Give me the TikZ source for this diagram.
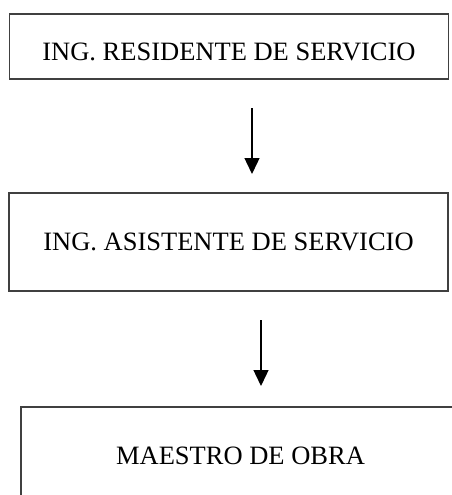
\documentclass[tikz,border=0pt]{standalone}
\usepackage{fontspec}
\setmainfont{Liberation Serif}
\usetikzlibrary{arrows.meta}
\usetikzlibrary{positioning}

\begin{document}
\begin{tikzpicture}[x=1pt, y=-1pt, ->, >={Triangle[length=16pt,width=15pt]}, line width=1.4pt]
    \tikzstyle{puesto}=[rectangle, draw=black!75, line width=1.6pt, minimum width=439pt, inner sep=0pt, font=\fontsize{26.5}{30}\selectfont]
    \useasboundingbox (0,0) rectangle (452,495);

    \node[puesto, minimum height=65pt, text height=28pt, text depth=0pt] (residente) at (229,46.5) {ING. RESIDENTE DE SERVICIO};
    \node[puesto, minimum height=98pt] (asistente) at (228.5,242) {ING. ASISTENTE DE SERVICIO};
    \node[puesto, minimum height=98pt] (maestro) at (240.5,456) {MAESTRO DE OBRA};

    \coordinate (a1) at (252,108);
    \coordinate (b1) at (252,174);
    \coordinate (a2) at (261,320);
    \coordinate (b2) at (261,386);

    \draw (a1) -- (b1);
    \draw (a2) -- (b2);
\end{tikzpicture}
\end{document}
